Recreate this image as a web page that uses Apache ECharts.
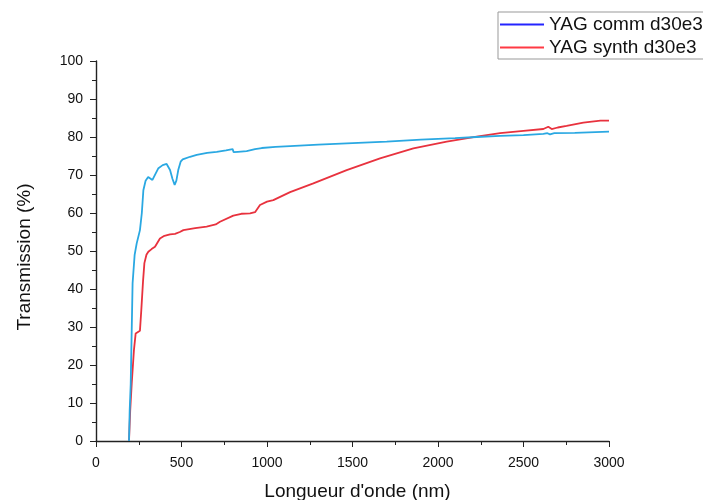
<!DOCTYPE html>
<html><head><meta charset="utf-8">
<script src="https://cdn.jsdelivr.net/npm/echarts@6/dist/echarts.min.js"></script>
<style>html,body{margin:0;padding:0;background:#fff}#c{width:703px;height:500px}</style>
</head><body><div id="c"></div>
<script>
const seriesNames = ['YAG comm d30e3', 'YAG synth d30e3'];
const xTicks = [0, 500, 1000, 1500, 2000, 2500, 3000];
const yTicks = [0, 10, 20, 30, 40, 50, 60, 70, 80, 90, 100];
const commWl = [193,197,203,214,226,238,257,268,277,290,305,316,330,339,350,365,390,413,433,447,460,470,481,495,507,550,589,650,706,760,799,805,830,881,930,969,1050,1135,1300,1500,1700,1900,2100,2226,2363,2500,2616,2640,2655,2680,2800,3000];
const commT = [0,8,15,41.5,49,52,55.5,60,66,68.5,69.5,69.3,68.7,68.5,70.5,71.8,72.6,72.9,71.3,69,67.4,68.5,71.3,73.5,74.1,74.8,75.3,75.8,76.1,76.5,76.8,76,76.1,76.3,76.8,77.1,77.4,77.6,78.0,78.4,78.8,79.3,79.7,80.0,80.3,80.5,80.8,81.0,80.7,81,81.1,81.4];
const synthWl = [193,200,209,222,232,240,257,265,275,283,295,306,325,345,374,400,433,462,490,511,580,647,700,725,803,850,901,930,959,1000,1037,1135,1271,1466,1661,1856,2051,2226,2363,2500,2616,2645,2665,2700,2752,2850,2950,3000];
const synthT = [0,8,15.2,24,28.3,28.8,29,34.5,42,46.8,49,49.8,50.5,51.1,53.3,54,54.4,54.5,55,55.5,56,56.4,57,57.7,59.3,59.8,59.9,60.2,62.1,63,63.4,65.5,67.8,71.3,74.4,77,78.8,80.1,81,81.6,82.1,82.7,82.1,82.5,82.9,83.8,84.3,84.3];

const pairs = (xs, ys) => xs.map((x, i) => [x, ys[i]]);
const chart = echarts.init(document.getElementById('c'), null, {renderer: 'canvas'});
const font = 'Liberation Sans, Arial, sans-serif';
const lineIcon = 'path://M0,0L44,0L44,2L0,2Z';
chart.setOption({
  animation: false,
  backgroundColor: '#fff',
  grid: {left: 96, right: 94, top: 61, bottom: 59, outerBoundsMode: 'none', containLabel: false},
  legend: {
    orient: 'vertical', left: 498, top: 12,
    borderColor: '#999', borderWidth: 1, padding: [3, 12, 2, 2],
    itemWidth: 44, itemHeight: 10, itemGap: 4,
    textStyle: {fontFamily: font, fontSize: 19, color: '#111'},
    data: [
      {name: seriesNames[0], icon: lineIcon, itemStyle: {color: '#2424ff'}},
      {name: seriesNames[1], icon: lineIcon, itemStyle: {color: '#ff3a44'}}
    ]
  },
  xAxis: {
    type: 'value', min: xTicks[0], max: xTicks[xTicks.length - 1], interval: 500,
    name: "Longueur d'onde (nm)", nameLocation: 'middle', nameGap: 41,
    nameTextStyle: {fontFamily: font, fontSize: 19, color: '#111', padding: [0, 0, 0, 10]},
    axisLine: {lineStyle: {color: '#222', width: 1.4}},
    axisTick: {show: true, length: 6, lineStyle: {color: '#222'}},
    minorTick: {show: true, splitNumber: 2, length: 4, lineStyle: {color: '#222'}},
    splitLine: {show: false},
    axisLabel: {fontFamily: font, fontSize: 14, color: '#111', margin: 15, formatter: v => String(v)}
  },
  yAxis: {
    type: 'value', min: yTicks[0], max: yTicks[yTicks.length - 1], interval: 10,
    name: 'Transmission (%)', nameLocation: 'middle', nameGap: 62,
    nameTextStyle: {fontFamily: font, fontSize: 19, color: '#111', padding: [0, 12, 0, 0]},
    axisLine: {show: true, lineStyle: {color: '#222', width: 1.4}},
    axisTick: {show: true, length: 6, lineStyle: {color: '#222'}},
    minorTick: {show: true, splitNumber: 2, length: 4, lineStyle: {color: '#222'}},
    splitLine: {show: false},
    axisLabel: {fontFamily: font, fontSize: 14, color: '#111', margin: 13, formatter: v => String(v)}
  },
  series: [
    {name: seriesNames[0], type: 'line', symbol: 'none', data: pairs(commWl, commT),
     lineStyle: {color: '#2aa8e2', width: 1.8}, itemStyle: {color: '#2aa8e2'}, z: 3},
    {name: seriesNames[1], type: 'line', symbol: 'none', data: pairs(synthWl, synthT),
     lineStyle: {color: '#e8323e', width: 1.8}, itemStyle: {color: '#e8323e'}, z: 2}
  ]
});
</script></body></html>
